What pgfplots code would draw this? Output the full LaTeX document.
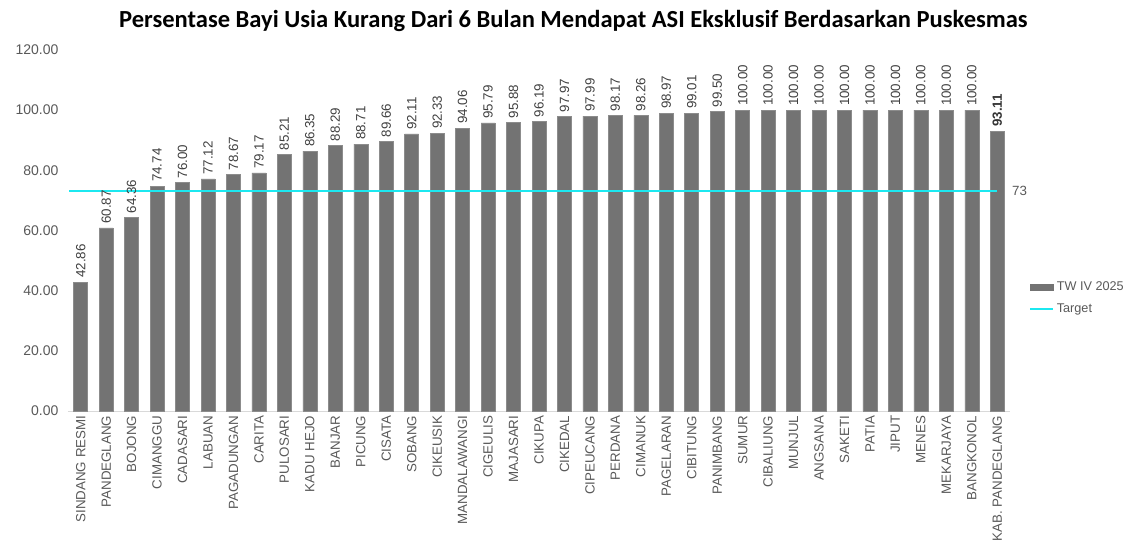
\documentclass[border=0pt]{standalone}
\usepackage{pgfplots}
\pgfplotsset{compat=1.18}
\usepackage{fontspec}
\setmainfont{Liberation Sans}
\newfontfamily\titlefont{Carlito}
\definecolor{barc}{HTML}{737373}
\definecolor{barb}{HTML}{8C8C8C}
\definecolor{txt}{HTML}{595959}
\definecolor{lbl}{HTML}{404040}
\definecolor{tgt}{HTML}{1CE8F0}
\begin{document}
\begin{tikzpicture}
\begin{axis}[
  at={(51pt,108.75pt)}, anchor=south west,
  scale only axis, width=706.5pt, height=270.75pt,
  ybar, bar shift=0pt, bar width=10.5pt,
  xmin=-0.5, xmax=36.5, ymin=0, ymax=120,
  ytick={0,20,...,120},
  yticklabel style={font=\fontsize{10.5}{12}\selectfont, text=txt, inner xsep=7pt,
    /pgf/number format/fixed, /pgf/number format/fixed zerofill,
    /pgf/number format/precision=2, /pgf/number format/assume math mode=true},
  xtick={0,...,36},
  xticklabels={SINDANG RESMI,PANDEGLANG,BOJONG,CIMANGGU,CADASARI,LABUAN,PAGADUNGAN,CARITA,PULOSARI,KADU HEJO,BANJAR,PICUNG,CISATA,SOBANG,CIKEUSIK,MANDALAWANGI,CIGEULIS,MAJASARI,CIKUPA,CIKEDAL,CIPEUCANG,PERDANA,CIMANUK,PAGELARAN,CIBITUNG,PANIMBANG,SUMUR,CIBALIUNG,MUNJUL,ANGSANA,SAKETI,PATIA,JIPUT,MENES,MEKARJAYA,BANGKONOL,KAB. PANDEGLANG},
  xticklabel style={rotate=90, anchor=east, font=\fontsize{10}{12}\selectfont, text=txt},
  major tick length=0pt,
  axis y line*=left,
  y axis line style={draw=none},
  axis x line*=bottom,
  x axis line style={draw=black!15, -},
  clip=false,
  legend style={at={(1.016,0.313)}, anchor=west, draw=none, fill=none,
    font=\fontsize{9.5}{12}\selectfont, text=txt, row sep=4pt,
    legend cell align=left},
  nodes near coords={\pgfmathprintnumber[fixed,fixed zerofill,precision=2,assume math mode=true]{\pgfplotspointmeta}},
  nodes near coords style={rotate=90, anchor=west, font=\fontsize{10}{12}\selectfont, text=lbl, inner sep=3pt},
]
\addplot[fill=barc, draw=barb, line width=0.4pt,
  legend image code/.code={\fill[barc] (0pt,-2.5pt) rectangle (17pt,2.5pt);}]
 coordinates {
(0,42.86) (1,60.87) (2,64.36) (3,74.74) (4,76.00) (5,77.12) (6,78.67) (7,79.17)
(8,85.21) (9,86.35) (10,88.29) (11,88.71) (12,89.66) (13,92.11) (14,92.33) (15,94.06)
(16,95.79) (17,95.88) (18,96.19) (19,97.97) (20,97.99) (21,98.17) (22,98.26) (23,98.97)
(24,99.01) (25,99.50) (26,100) (27,100) (28,100) (29,100) (30,100) (31,100)
(32,100) (33,100) (34,100) (35,100)
};
\addlegendentry{TW IV 2025}
\addplot[fill=barc, draw=barb, line width=0.4pt, forget plot,
  nodes near coords style={font=\bfseries\fontsize{10}{12}\selectfont, text=black!80}]
 coordinates {(36,93.11)};
\addplot[sharp plot, draw=tgt, line width=1.6pt, no marks, nodes near coords={}, 
  legend image code/.code={\draw[tgt, line width=1.6pt] (0pt,0pt) -- (17pt,0pt);}]
 coordinates {(-0.45,73) (36,73)};
\addlegendentry{Target}
\node[anchor=west, font=\fontsize{10}{12}\selectfont, text=txt] at (axis cs:36.4,73) {73};
\end{axis}
\node[font=\titlefont\bfseries\fontsize{18.4}{22}\selectfont, text=black] at (430pt,401pt) {Persentase Bayi Usia Kurang Dari 6 Bulan Mendapat ASI Eksklusif Berdasarkan Puskesmas};
\pgfresetboundingbox
\path (0,0) rectangle (855pt,417pt);
\end{tikzpicture}
\end{document}
